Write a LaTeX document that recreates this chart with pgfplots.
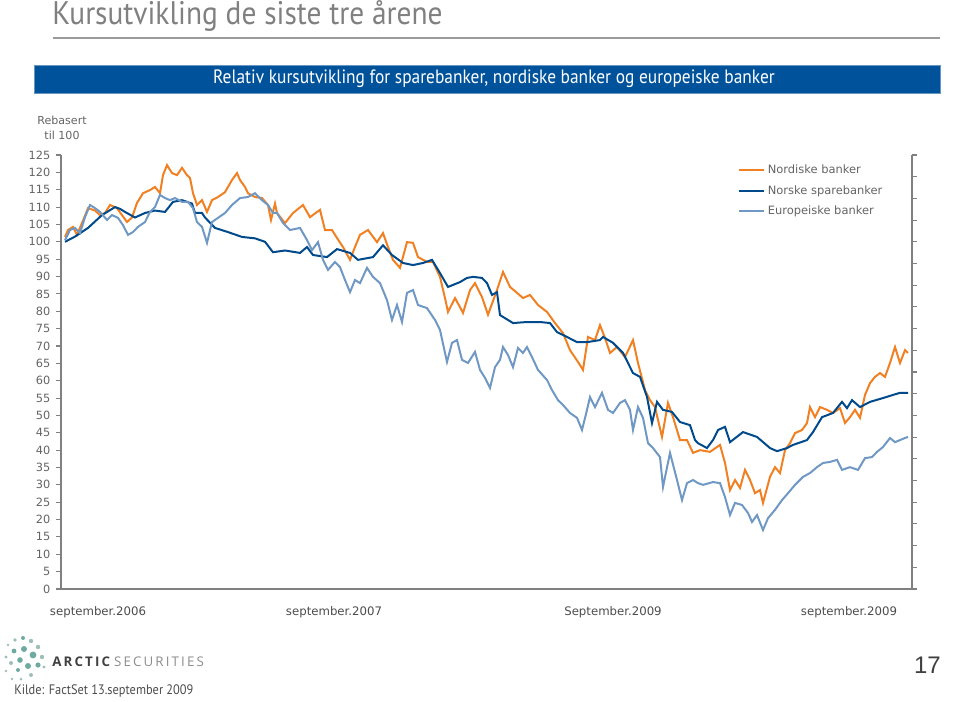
\documentclass[border=0pt]{standalone}
\usepackage{pgfplots}
\pgfplotsset{compat=1.18}
\usepackage{fontspec}
\setmainfont{DejaVu Sans}
\newfontfamily\tickfont{DejaVu Sans}
\newfontfamily\titlefont[FakeStretch=0.9]{PT Sans}
\newfontfamily\logofont[LetterSpace=16]{Open Sans}
\newfontfamily\numfont{Liberation Sans}
\definecolor{cOrange}{RGB}{240,128,34}
\definecolor{cDark}{RGB}{0,74,140}
\definecolor{cLight}{RGB}{112,152,196}
\definecolor{cGrayTxt}{RGB}{100,100,100}
\definecolor{cAxis}{RGB}{128,128,128}
\definecolor{cBanner}{RGB}{0,82,155}
\definecolor{cTeal}{RGB}{110,170,160}
\definecolor{cTeal2}{RGB}{160,190,185}

\pgfplotstableread{
x y
65 100.0
75 101.5
88 104
102 107.7
115 110
120 109.5
125 108.6
135 107
145 108.3
155 109
165 108.6
173 111.5
182 112
192 111
195 108.3
202 108.3
205 107
215 104
228 102.8
242 101.4
255 101
265 100
273 97
285 97.5
300 96.8
307 98.5
313 96.2
327 95.6
337 97.9
350 96.8
358 94.8
373 95.6
383 99
392 96.2
403 93.9
413 93.3
423 93.9
432 94.8
440 91
448 87
460 88.4
467 89.6
473 89.9
482 89.6
487 88.1
492 84.7
497 85.5
500 78.9
513 76.6
527 76.9
540 76.9
550 76.6
557 74
567 72.6
577 71.1
587 71.1
600 71.7
603 72.6
613 70.9
623 68
633 62.2
640 61.1
647 55.3
652 47.8
657 53.9
663 51.6
672 51
680 48.1
690 47.2
695 42.9
698 42
707 40.6
713 42.9
718 45.8
725 46.7
730 42.3
743 45.2
757 43.8
770 40.6
777 39.7
787 40.6
793 41.5
807 42.9
813 45.2
822 49.5
833 50.7
842 53.9
847 52.1
852 54.4
860 52.4
870 53.9
883 55
893 55.9
900 56.5
908 56.5
}\norske

\pgfplotstableread{
x y
65 101.4
68 103.4
73 104.3
77 102
82 105.4
88 109.7
95 109
100 107.7
105 108.3
110 110.6
117 109.7
122 107.7
127 105.7
132 107
137 111.2
143 114
150 114.9
155 115.8
160 114
163 119.2
167 122.1
172 119.8
177 119.2
182 121.3
187 119.2
190 118.4
193 114
197 110.6
202 112
207 108.6
212 112
218 112.9
225 114.3
232 117.8
237 119.8
240 117.8
245 115.8
248 114
255 112.9
262 112.6
268 110.6
271 106.3
275 111
277 108.3
285 105.4
293 108.3
303 110.6
310 107.1
320 109.2
325 103.4
332 103.4
337 101.1
343 98.5
350 94.8
355 98.5
360 102
368 103.4
377 99.9
383 102.5
388 98.5
393 94.8
400 92.5
407 99.9
413 99.7
418 95.6
427 94.2
433 94.2
440 89.9
445 83.8
448 79.8
455 83.8
460 81.2
463 79.5
470 86.1
475 88.1
482 84.1
488 79
497 86.1
503 91.3
510 87
517 85.3
523 83.8
530 84.7
538 81.8
547 79.8
555 76.6
563 73.7
570 68.8
578 65.4
583 63.1
588 72.6
595 71.7
600 76
605 72.3
610 68
617 69.7
625 66.8
633 71.7
638 65.1
645 57.3
650 54.4
655 52.4
662 43.8
668 53.6
673 49.5
680 42.9
687 42.9
693 39.2
700 40
710 39.5
720 41.5
725 36.3
730 28.5
735 31.4
740 29.1
745 34.3
750 31.4
755 27.6
760 28.5
763 24.8
770 32.3
775 35.1
780 33.4
785 40
790 42
795 44.9
802 45.8
807 47.8
810 52.4
815 49.5
820 52.4
827 51.6
833 50.7
840 52.1
845 47.8
850 49.5
855 51.6
860 49.3
865 55.9
870 59.3
875 61.1
880 62.2
885 61.1
890 65.1
895 69.7
900 65.1
905 68.8
908 68
}\nordiske

\pgfplotstableread{
x y
65 100.5
70 103.4
75 104
80 102.5
85 107.1
90 110.6
95 109.7
100 108.6
107 106.3
112 107.7
118 106.9
123 104.8
128 102
133 102.8
138 104.3
145 105.7
150 108.6
155 110
160 113.5
165 112.6
170 112
175 112.6
182 111.5
188 111.5
193 109.7
197 105.7
202 104.3
207 99.7
212 105.7
218 106.9
225 108.3
232 110.6
240 112.6
248 112.9
255 114
262 112
268 110.6
273 108.3
277 108.3
283 105.4
290 103.4
300 104
307 100.5
312 97.6
318 99.9
323 94.8
328 91.9
335 94.2
340 92.7
345 89
350 85.5
355 89
360 88.1
367 92.5
373 89.9
380 88.1
387 83.2
392 77.5
397 81.8
402 76.9
407 85.3
413 86.1
418 81.8
427 80.9
435 77.5
440 74.6
447 65.4
452 70.9
457 71.7
462 66
468 65.1
475 68.3
480 63.1
485 60.8
490 57.9
495 63.9
500 66
503 69.7
508 67.4
513 63.9
518 69.4
523 68
527 69.7
532 66.8
538 63.1
547 60.2
552 57.3
558 54.4
563 53
570 50.7
577 49.3
582 45.8
587 51.6
590 55.3
595 52.4
602 56.5
608 51.6
613 50.7
620 53.6
625 54.4
630 51.6
633 45.8
638 52.4
643 49.3
648 42
653 40.6
660 38
663 29.4
670 39.2
677 31.4
682 25.6
687 30.5
693 31.4
698 30.5
703 30
713 30.8
720 30.5
725 26.5
730 21.3
735 24.8
742 24.2
748 21.9
752 19.3
757 21.3
763 17
768 20.4
775 22.8
782 25.6
788 27.6
795 30
803 32.3
810 33.4
817 35.1
823 36.3
830 36.6
837 37.2
842 34.3
850 35.1
858 34.3
865 37.7
872 38
877 39.5
883 40.9
890 43.5
895 42.3
900 42.9
905 43.5
908 43.8
}\europeiske

\begin{document}
\begin{tikzpicture}
\path[use as bounding box] (0,0) rectangle (720pt,-525.75pt);

\begin{scope}[x=0.75pt,y=-0.75pt]
% title
\node[anchor=west, inner sep=0, text=cAxis, font=\titlefont\fontsize{24.5}{27}\selectfont] at (52,16) {Kursutvikling de siste tre årene};
\draw[cAxis!80, line width=1.5pt] (53,38) -- (940,38);
% banner
\fill[cBanner] (34,65) rectangle (940,93);
\draw[cBanner!60, line width=0.6pt] (34,65) rectangle (940,93);
\node[text=white, inner sep=0, font=\titlefont\fontsize{14.5}{16}\selectfont] at (494,79) {Relativ kursutvikling for sparebanker, nordiske banker og europeiske banker};
% y label
\node[text=cGrayTxt, inner sep=0, font=\tickfont\fontsize{8.3}{10}\selectfont, align=center] at (62,128) {Rebasert\\[1pt]til 100};
% logo dots
\foreach \px/\py/\r/\c in {8/645/1.4/cTeal2, 15/640/1.8/cTeal2, 23/638/2/cTeal, 31/641/2.2/cTeal2, 38/647/2.2/cTeal2, 14/651/2.4/cTeal, 24/649/3/cTeal, 33/655/3.4/cTeal, 42/657/2.2/cTeal2, 6/657/1.6/cTeal2, 20/660/2.8/cTeal, 11/663/2/cTeal2, 28/666/3/cTeal, 38/665/2.6/cTeal, 44/667/1.6/cTeal2, 18/670/2/cTeal, 6/671/1.4/cTeal2, 31/675/2/cTeal2, 21/679/1.5/cTeal2, 12/679/1.3/cTeal2}
  \fill[\c] (\px,\py) circle[radius=\r];
\node[anchor=west, inner sep=0, font=\logofont\fontsize{10}{12}\selectfont] at (52,662) {\textcolor{black!75}{\bfseries ARCTIC}\hspace{3pt}\textcolor{black!45}{SECURITIES}};
\node[anchor=east, inner sep=0, text=black!75, font=\numfont\fontsize{18}{20}\selectfont] at (941,665) {17};
\node[anchor=west, inner sep=0, text=black!70, font=\titlefont\fontsize{10.3}{12}\selectfont] at (14,691) {Kilde: FactSet 13.september 2009};
\end{scope}

\begin{axis}[
  at={(45.75pt,-441.75pt)}, anchor=south west,
  scale only axis, width=638.25pt, height=325.5pt,
  xmin=61, xmax=912, ymin=0, ymax=125,
  axis x line*=bottom, axis y line*=left,
  axis line style={cAxis, line width=0.8pt},
  ytick distance=5,
  xtick={98,334,613,849},
  xticklabels={september.2006, september.2007, September.2009, september.2009},
  x tick style={draw=none},
  y tick style={cAxis, line width=0.8pt},
  tick align=outside, major tick length=3.5pt,
  /pgf/number format/assume math mode=true,
  tick label style={text=cGrayTxt, font=\tickfont\fontsize{8.5}{10}\selectfont},
  xticklabel style={yshift=-6pt, text=black!70, font=\tickfont\fontsize{8.8}{10}\selectfont},
  yticklabel style={xshift=-1pt},
  legend style={at={(0.795,0.985)}, anchor=north west, draw=none, fill=none,
     font=\tickfont\fontsize{8.6}{10}\selectfont, text=cGrayTxt, row sep=3.6pt, inner sep=0pt},
  legend cell align=left,
  legend image code/.code={\draw[#1, line width=1.5pt] (0pt,0pt) -- (19pt,0pt);},
  clip=false,
]
\addplot[cOrange, line width=1.5pt] table[x=x,y=y] {\nordiske};
\addlegendentry{Nordiske banker}
\addplot[cDark, line width=1.5pt] table[x=x,y=y] {\norske};
\addlegendentry{Norske sparebanker}
\addplot[cLight, line width=1.5pt] table[x=x,y=y] {\europeiske};
\addlegendentry{Europeiske banker}
\end{axis}

\begin{axis}[
  at={(45.75pt,-441.75pt)}, anchor=south west,
  scale only axis, width=638.25pt, height=325.5pt,
  xmin=0, xmax=1, ymin=0, ymax=20,
  axis x line=none, axis y line*=right,
  axis line style={cAxis, line width=0.8pt},
  ytick={0,...,20}, yticklabels={},
  y tick style={cAxis, line width=0.8pt},
  tick align=outside, major tick length=3.5pt,
]
\addplot[draw=none] coordinates {(0,0)};
\end{axis}
\end{tikzpicture}
\end{document}
